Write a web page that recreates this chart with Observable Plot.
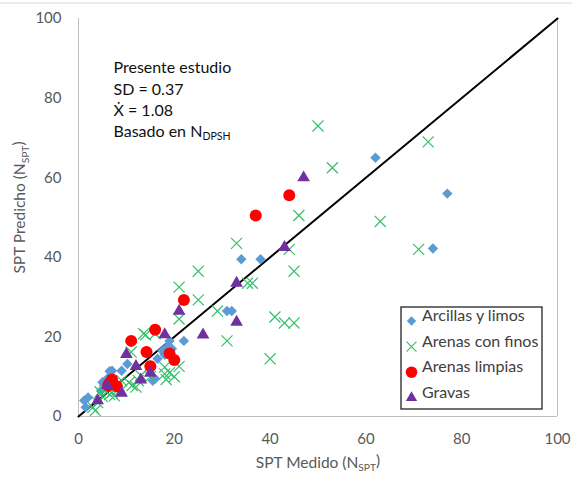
<!DOCTYPE html>
<html><head><meta charset="utf-8">
<script src="https://cdn.jsdelivr.net/npm/d3@7"></script>
<script src="https://cdn.jsdelivr.net/npm/@observablehq/plot@0.6"></script>
<style>body{margin:0;background:#fff}</style>
</head><body><div id="chart"></div>
<script>
// ---- data ----
const xTicks = [0, 20, 40, 60, 80, 100];
const yTicks = [0, 20, 40, 60, 80, 100];
const diagonal = [0, 100];

const arcillasX = [77, 62, 74, 34, 38, 31, 32, 22, 19, 18.5, 18, 17.5, 16.5, 16, 15.5, 10.2, 7, 9, 6.5, 6, 5, 4.7, 2, 1.2, 1.5, 19.5];
const arcillasY = [56, 65, 42.2, 39.5, 39.5, 26.5, 26.5, 19, 19, 17.5, 15.5, 16.5, 14.5, 9.5, 9, 13.2, 11.5, 11.5, 11.4, 9.5, 8.6, 6.5, 4.8, 4, 2.3, 17];

const finosX = [50, 73, 53, 46, 63, 44, 71, 45, 33, 25, 35.3, 36.3, 21, 25, 21, 29, 41, 43, 45, 31, 40, 21, 18, 18, 18.3, 14, 11, 13, 11.2, 12, 13.6, 16, 8, 6.5, 5, 4, 3, 3.5, 5.5, 9, 10.5, 12.5, 15, 7, 19, 20, 4.5, 7.5];
const finosY = [73, 69, 62.5, 50.5, 49, 42, 42, 36.5, 43.5, 36.5, 33.5, 33.5, 32.5, 29.3, 24.5, 26.5, 25, 23.5, 23.5, 19, 14.5, 12.6, 12.4, 10.7, 9.3, 20.5, 16.2, 10.3, 7.8, 7.4, 20.8, 20.8, 6.5, 5.5, 5, 3.5, 2.3, 1.5, 6.5, 9, 8.5, 9, 10, 6, 11, 10, 6.2, 5.2];

const limpiasX = [44, 37, 22, 16, 11, 14.2, 15, 19, 20, 7, 6.2, 8, 6.5];
const limpiasY = [55.6, 50.5, 29.3, 21.8, 19, 16.2, 12.6, 15.8, 14.2, 9.3, 7.8, 7.6, 8.4];

const gravasX = [47, 43, 33, 33, 26, 21, 18, 10, 12, 15, 13, 9, 6, 4];
const gravasY = [60, 42.5, 33.5, 23.7, 20.5, 26.5, 20.6, 15.6, 12.6, 10.9, 9.2, 5.9, 7.8, 4];

const seriesNames = ["Arcillas y limos", "Arenas con finos", "Arenas limpias", "Gravas"];
const annotation = ["Presente estudio", "SD = 0.37", "\u1E8A = 1.08", "Basado en N"];

// ---- styling ----
const blue = "#5B9BD5", green = "#33C06A", red = "#FF0000", purple = "#7030A0";
const styles = [
  {symbol: "diamond2", fill: blue, stroke: "none", r: 4.7, strokeWidth: 0},
  {symbol: "times", fill: "none", stroke: green, r: 5.1, strokeWidth: 1.2},
  {symbol: "circle", fill: red, stroke: "none", r: 6, strokeWidth: 0},
  {symbol: "triangle", fill: purple, stroke: "none", r: 4.7, strokeWidth: 0}
];
const legendStyles = [
  {r: 4.2}, {r: 4.6}, {r: 5.8}, {r: 4.2}
];

const toRows = (xs, ys) => xs.map((x, i) => ({x, y: ys[i]}));
const data = [toRows(arcillasX, arcillasY), toRows(finosX, finosY), toRows(limpiasX, limpiasY), toRows(gravasX, gravasY)];

const font = "Lato, 'Open Sans', sans-serif";
const axisGray = "#595959";

const marks = [
  Plot.ruleY([0], {stroke: "#BFBFBF", strokeWidth: 1}),
  Plot.ruleX([0], {stroke: "#BFBFBF", strokeWidth: 1}),
  Plot.ruleX([100], {stroke: "#BFBFBF", strokeWidth: 1}),
  Plot.line(diagonal, {x: d => d, y: d => d, stroke: "#000", strokeWidth: 2})
];
data.forEach((rows, i) => {
  const s = styles[i];
  marks.push(Plot.dot(rows, {x: "x", y: "y", symbol: s.symbol, fill: s.fill, stroke: s.stroke, r: s.r, strokeWidth: s.strokeWidth}));
});
// annotation block
marks.push(Plot.text([annotation.join("\n")], {
  text: d => d, frameAnchor: "top-left", dx: 35, dy: 80, textAnchor: "start",
  lineAnchor: "middle", lineHeight: 1.33, fontSize: 16, fill: "#111", fontFamily: font
}));
// legend
seriesNames.forEach((name, i) => {
  const s = styles[i];
  marks.push(Plot.dot([name], {frameAnchor: "bottom-right", dx: -146, dy: -95.5 + i * 25.6,
    symbol: s.symbol, fill: s.fill, stroke: s.stroke, r: legendStyles[i].r, strokeWidth: s.strokeWidth}));
  marks.push(Plot.text([name], {text: d => d, frameAnchor: "bottom-right", dx: -135.5, dy: -95.5 + i * 25.6,
    textAnchor: "start", fontSize: 16, fill: "#404040", fontFamily: font}));
});
// axis titles
marks.push(Plot.text(["SPT Medido (N"], {text: d => d, frameAnchor: "bottom", dy: 51, textAnchor: "middle", fontSize: 15.5, fill: axisGray, fontFamily: font}));
marks.push(Plot.text(["SPT Predicho (N"], {text: d => d, frameAnchor: "left", dx: -58, dy: -10, rotate: -90, textAnchor: "middle", fontSize: 15.5, fill: axisGray, fontFamily: font}));

const chart = Plot.plot({
  width: 572, height: 481,
  marginLeft: 78, marginRight: 15, marginTop: 18, marginBottom: 65,
  style: {fontFamily: font, fontSize: "15px", color: axisGray, background: "#fff"},
  x: {domain: [0, 100], ticks: xTicks, tickSize: 0, tickPadding: 17, label: null},
  y: {domain: [0, 100], ticks: yTicks, tickSize: 0, tickPadding: 17, label: null},
  marks
});
document.getElementById("chart").appendChild(chart);

// subscripts
const svg = d3.select(chart);
function addSub(match, sub, tail) {
  svg.selectAll("text, tspan").filter(function () {
    return this.childNodes.length === 1 && this.childNodes[0].nodeType === 3 && this.textContent === match;
  }).each(function () {
    const el = d3.select(this);
    el.append("tspan").attr("font-size", "0.66em").attr("dy", "0.3em").text(sub);
    if (tail) el.append("tspan").attr("dy", "-0.3em").text(tail);
  });
}
addSub("Basado en N", "DPSH", null);
addSub("SPT Medido (N", "SPT", ")");
addSub("SPT Predicho (N", "SPT", ")");

// legend box and outer border
svg.append("rect").attr("x", 401).attr("y", 307).attr("width", 141).attr("height", 102)
  .attr("fill", "none").attr("stroke", "#222").attr("stroke-width", 1.3);
svg.append("line").attr("x1", 0).attr("x2", 572).attr("y1", 3).attr("y2", 3)
  .attr("stroke", "#D9D9D9").attr("stroke-width", 1);
</script>
</body></html>
